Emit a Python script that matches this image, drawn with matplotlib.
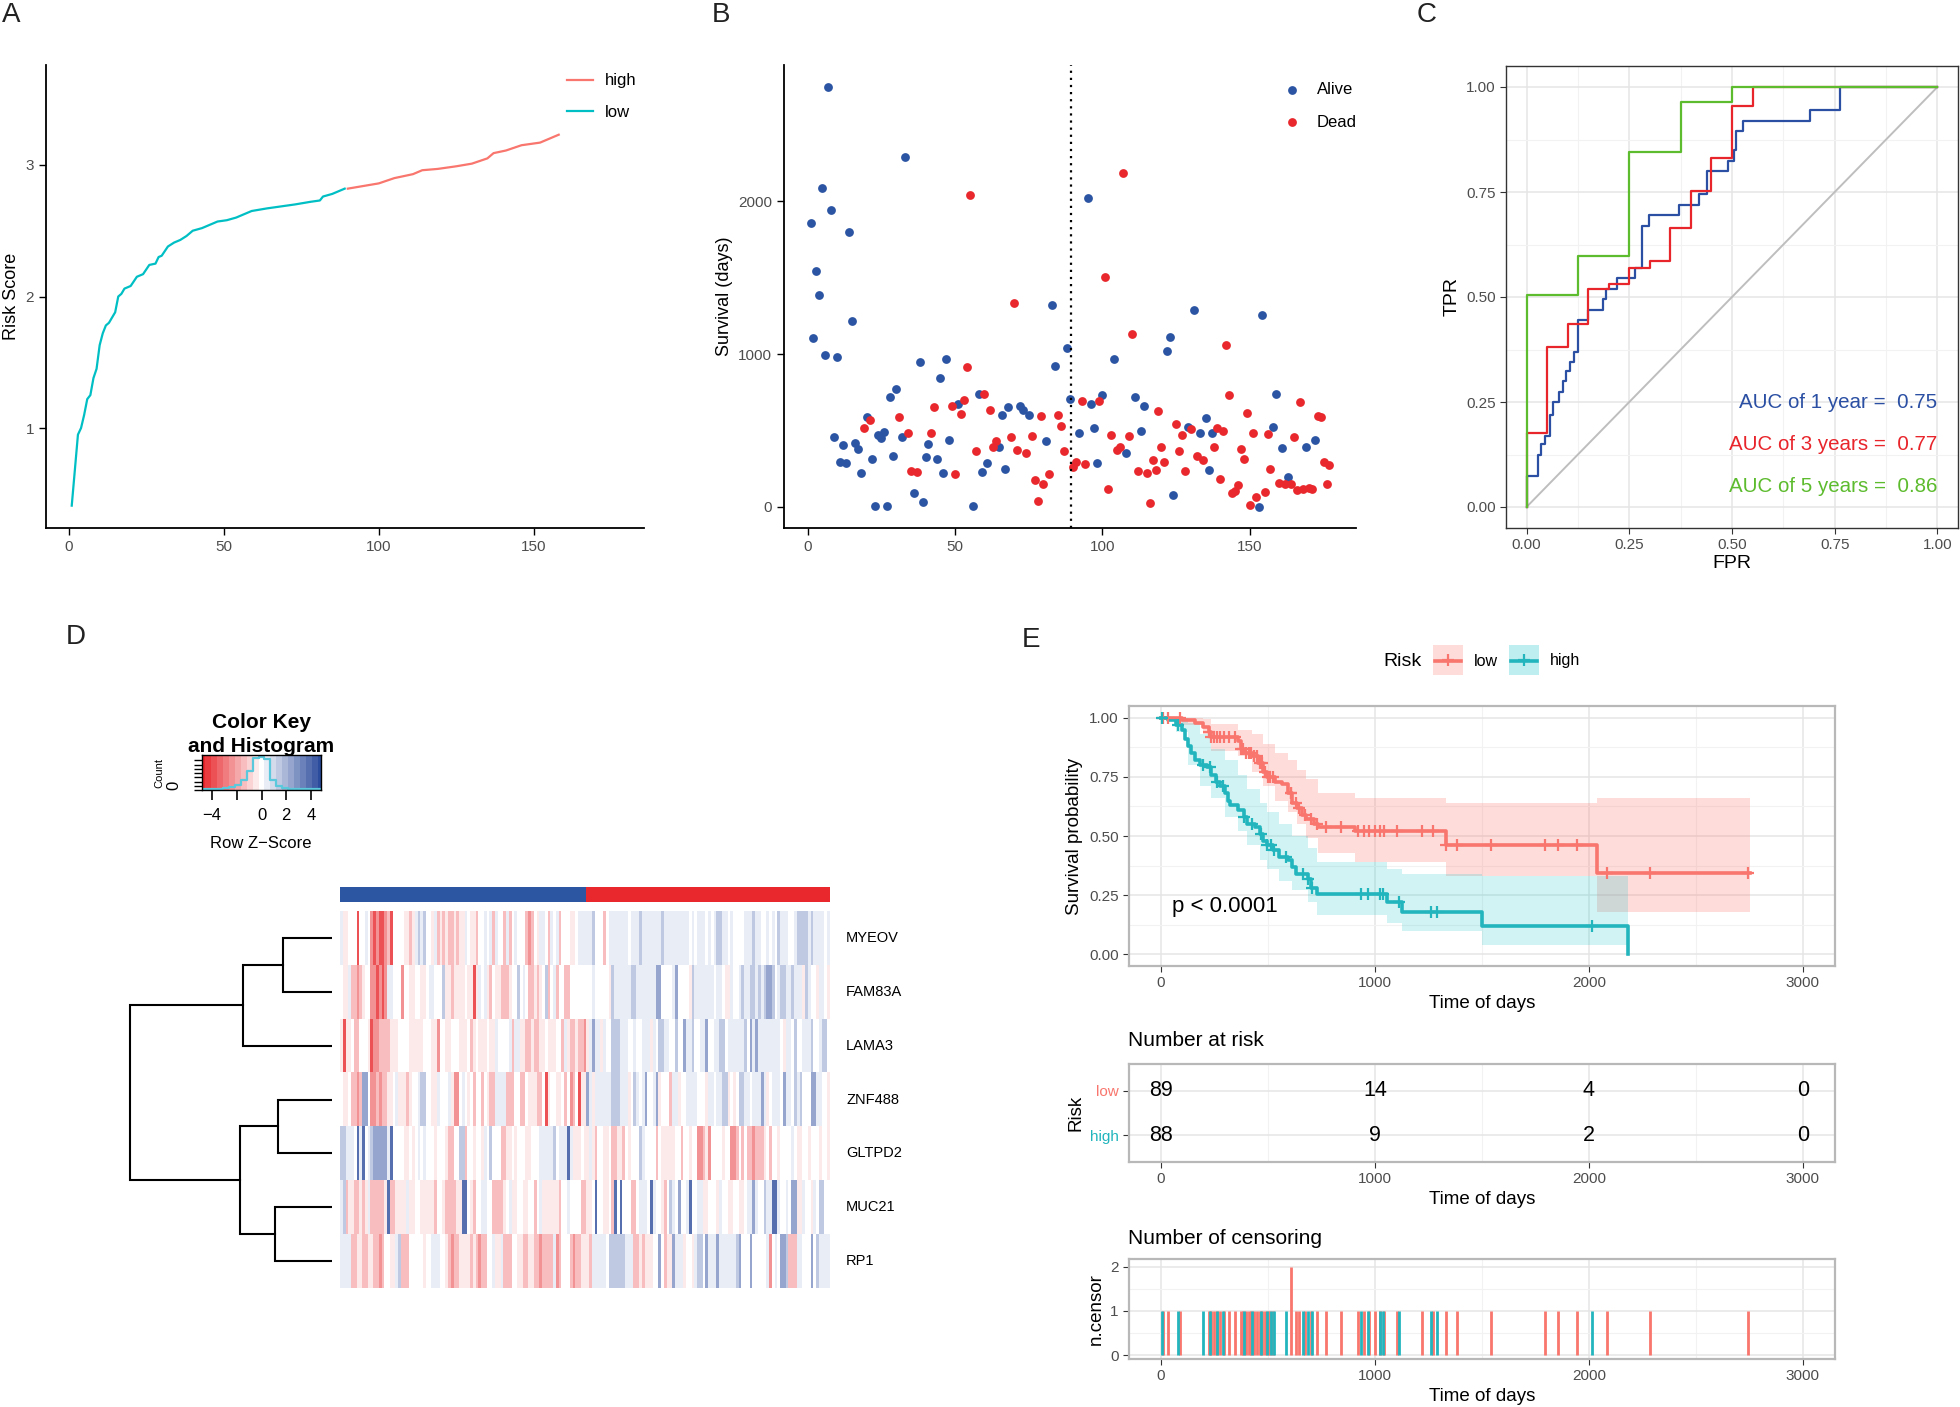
import numpy as np
import matplotlib
matplotlib.use("Agg")
import matplotlib.pyplot as plt
from matplotlib.colors import LinearSegmentedColormap
from matplotlib.lines import Line2D
from matplotlib.patches import Rectangle

plt.rcParams['font.family'] = ['Liberation Sans', 'DejaVu Sans']

# ---------------- data ----------------
# A: risk score curve (rank, score)
low_rank = [1, 3, 4, 5, 6, 7, 8, 9, 10, 11, 12, 13, 15, 16, 17, 18, 20, 22, 24, 26, 28, 29, 30,
            32, 34, 36, 38, 40, 43, 45, 48, 51, 54, 56, 59, 64, 70, 73, 78, 81, 82, 85, 89]
low_score = [0.41, 0.95, 1.0, 1.1, 1.22, 1.25, 1.38, 1.45, 1.63, 1.72, 1.78, 1.80, 1.88, 2.0, 2.02,
             2.06, 2.08, 2.15, 2.17, 2.24, 2.25, 2.30, 2.31, 2.38, 2.41, 2.43, 2.46, 2.50, 2.52, 2.54,
             2.57, 2.58, 2.60, 2.62, 2.65, 2.67, 2.69, 2.70, 2.72, 2.73, 2.76, 2.78, 2.82]
high_rank = [90, 95, 100, 105, 111, 114, 119, 125, 130, 135, 137, 141, 146, 152, 156, 158]
high_score = [2.82, 2.84, 2.86, 2.90, 2.93, 2.96, 2.97, 2.99, 3.01, 3.05, 3.09, 3.11, 3.15, 3.17,
              3.21, 3.23]

# B: survival days by patient rank
alive_idx = [1, 2, 3, 4, 5, 6, 7, 8, 9, 10, 11, 12, 13, 14, 15, 16, 17, 18, 20, 22, 23, 24, 25, 26,
             27, 28, 29, 30, 32, 33, 36, 38, 39, 40, 41, 44, 45, 46, 47, 48, 51, 56, 58, 59, 61, 65,
             66, 67, 68, 72, 73, 75, 81, 83, 84, 88, 89, 92, 95, 96, 97, 98, 100, 104, 108, 111,
             113, 114, 122, 123, 124, 129, 131, 133, 135, 136, 137, 153, 154, 158, 159, 161, 163,
             169, 172]
alive_days = [1859, 1103, 1543, 1385, 2087, 997, 2748, 1946, 459, 979, 292, 403, 284, 1798, 1217,
              418, 377, 224, 586, 311, 5, 467, 450, 491, 5, 719, 335, 768, 459, 2289, 92, 950, 29,
              328, 413, 313, 841, 221, 970, 435, 676, 2, 741, 228, 284, 391, 600, 248, 654, 659,
              632, 603, 430, 1324, 921, 1038, 705, 481, 2019, 671, 515, 287, 729, 970, 350, 717,
              496, 663, 1021, 1115, 75, 525, 1288, 481, 583, 243, 481, 0, 1259, 520, 736, 384, 192,
              389, 437]
dead_idx = [19, 21, 31, 34, 35, 37, 42, 43, 49, 50, 52, 53, 54, 55, 57, 60, 62, 63, 64, 69, 70, 71,
            74, 76, 77, 78, 79, 80, 82, 85, 86, 87, 90, 91, 93, 94, 99, 101, 102, 103, 105, 106,
            107, 109, 110, 112, 115, 116, 117, 118, 119, 120, 121, 125, 126, 127, 128, 130, 132,
            134, 138, 139, 140, 141, 142, 143, 144, 145, 146, 147, 148, 149, 150, 151, 152, 155,
            156, 157, 160, 162, 164, 165, 166, 167, 168, 170, 171, 173, 174, 175, 176, 177]
dead_days = [515, 566, 588, 484, 233, 226, 484, 651, 659, 214, 605, 700, 914, 2041, 365, 739, 632,
             394, 430, 454, 1334, 372, 350, 464, 177, 36, 595, 148, 216, 603, 530, 365, 262, 292,
             690, 277, 695, 1504, 119, 467, 374, 391, 2187, 464, 1130, 236, 221, 27, 306, 243, 625,
             389, 296, 544, 365, 469, 231, 510, 331, 304, 391, 515, 180, 498, 1060, 729, 90, 104,
             141, 379, 311, 612, 10, 481, 66, 100, 474, 250, 158, 146, 146, 457, 112, 683, 114, 122,
             114, 595, 590, 294, 151, 275]
n_low = 89

# C: time-dependent ROC curves
roc1_fpr = [0, 0, 0.028, 0.035, 0.045, 0.058, 0.065, 0.08, 0.088, 0.097, 0.105, 0.115, 0.125, 0.15,
            0.185, 0.193, 0.22, 0.265, 0.28, 0.297, 0.37, 0.42, 0.44, 0.49, 0.505, 0.51, 0.527,
            0.69, 0.762, 1.0]
roc1_tpr = [0, 0.075, 0.125, 0.15, 0.17, 0.22, 0.25, 0.275, 0.30, 0.325, 0.345, 0.37, 0.445, 0.47,
            0.495, 0.52, 0.545, 0.57, 0.67, 0.695, 0.72, 0.745, 0.80, 0.825, 0.85, 0.895, 0.92,
            0.945, 1.0, 1.0]
roc3_fpr = [0, 0, 0.05, 0.1, 0.15, 0.2, 0.25, 0.3, 0.35, 0.4, 0.45, 0.5, 0.55, 1.0]
roc3_tpr = [0, 0.177, 0.38, 0.435, 0.52, 0.53, 0.57, 0.585, 0.665, 0.752, 0.83, 0.955, 1.0, 1.0]
roc5_fpr = [0, 0, 0.125, 0.25, 0.375, 0.5, 1.0]
roc5_tpr = [0, 0.504, 0.597, 0.845, 0.965, 1.0, 1.0]
auc_labels = ["AUC of 1 year =  0.75", "AUC of 3 years =  0.77", "AUC of 5 years =  0.86"]

# D: heatmap (row z-score levels, one character per sample)
genes = ["MYEOV", "FAM83A", "LAMA3", "ZNF488", "GLTPD2", "MUC21", "RP1"]
heat_rows = [
    "lpp...R..l.rRrRRrmR....ppmplclc..plmpmpmmpmpp" + "l.ppm..l.lml..mlm.l...mrm.pll.ml.lm...pp.llll"
    + "lc...m.lllllll.lllclllllllclllllllll.l.lll.l..." [:45] + "lccll.l....lllcll..l.l.clll..lcccclcllll.l",
    ".pplmmrmp..rrRrRrll...r..pp..pp.ll...cppmpppp" + ".ppRpl.lpm.ppmmmp..c.l.mmpmp.cm.lm..mm......."
    + ".l.....pcllllllcclllllllbb....lb....pcllllllll" [:45] + ".ll.ppl..lcllcclclcbbc.lccllclllpcl..pll.p",
    "pRpp.mm...pRrrmmmmppp....ppppp...ppr..pp...pp" + "p.mp.ppp.ppl....lmllppmmpmmpp.ppp..mlpmmpmmrp"
    + "lbllpl..ccclll..l..lllpl.ccll..c..bllc..llb.." + "llcc.llllllc.blbllllllll.pll.c..lllc..lcc",
    ".pp.mmrmbb.rrmrmmpp.lpppmp..lcc..ppl...lprr.l" + ".p.m..m.pmmllllmmm..mm.pppmm.Rp..pp.m.rm.Rppb"
    + "lpllllllccclllp.cl.lb..lbp...mllp..llll...pll" + ".llccp.p.ccll.lllblp.lll.bll.clc...bbll..p",
    "cclll.BlB.lcbbbbblB....pp.p.l.l...p...pmm..cc" + "m..p..pl.c...mmpp.p...pp...lllllc.lllBlppp.ppl"
    + "pm..pp.mmppm.p...cl....m.ppppp..m..p..rrmpr.." + "..p..rrm.m.mmrmmmp.m..p....l.pp..p...p..p.",
    "lcmppmmpmplmmmmmpBmmpppplpp..pppppm..pmmmmppB" + "B.pm..ll..mmmmp.lpp..pp..m.lppppppm..l....mmpp"
    + ".B..pp.mB.B...mm.lll.Bl..pm.cl.b..lB..llpp..." + "pl..pp..pp.llbl..cllBBl..l.bbppl..pl.cc...",
    "llllmmppmmppmmrm..pplcmmm.....p..lll..pmrmmpp" + "ppmpmrmm..lpplmmm..ppmmppmmrmmmmlrm...mrmmppp"
    + "mlllll.cccccclllmmpmppp..b.mppblllp..plcc.bll" + "lbllllllcb...b.....lr.l.bbcmmmll...b.cllll",
]
level = {'R': -4.0, 'r': -2.6, 'm': -1.6, 'p': -0.7, '.': 0.0,
         'l': 0.7, 'c': 1.6, 'b': 2.6, 'B': 4.0}
# dendrogram merges: (child a, child b, height); leaves 0..6, new nodes 7..
merges = [(0, 1, 49), (7, 2, 88), (3, 4, 53), (5, 6, 56), (9, 10, 91), (8, 11, 200)]
# colour key histogram (relative counts in 21 bins from -5 to 5)
key_hist = [0.02, 0.03, 0.03, 0.04, 0.05, 0.08, 0.15, 0.28, 0.55, 0.92, 0.95, 0.88, 0.30, 0.12,
            0.05, 0.04, 0.03, 0.03, 0.02, 0.02, 0.02]

# E: Kaplan-Meier
low_t = [0, 98, 159, 194, 222, 235, 358, 372, 386, 427, 454, 476, 495, 531, 564, 591, 613, 637,
         659, 679, 714, 733, 906, 1330, 2036, 2753]
low_s = [1.0, 0.99, 0.98, 0.96, 0.94, 0.92, 0.90, 0.87, 0.85, 0.84, 0.81, 0.77, 0.75, 0.73, 0.72,
         0.68, 0.64, 0.62, 0.59, 0.57, 0.55, 0.54, 0.52, 0.46, 0.345, 0.345]
high_t = [0, 30, 71, 98, 112, 126, 140, 159, 181, 216, 235, 257, 276, 298, 312, 323, 358, 386, 400,
          440, 460, 476, 495, 523, 550, 591, 613, 632, 687, 700, 728, 1056, 1124, 1500, 2183]
high_s = [1.0, 0.99, 0.97, 0.95, 0.91, 0.88, 0.85, 0.82, 0.80, 0.79, 0.76, 0.73, 0.71, 0.68, 0.65,
          0.63, 0.61, 0.58, 0.55, 0.54, 0.51, 0.48, 0.46, 0.44, 0.41, 0.40, 0.37, 0.34, 0.32, 0.28,
          0.255, 0.22, 0.18, 0.12, 0.0]
low_ci_t = [0, 98, 194, 235, 358, 427, 476, 531, 591, 637, 679, 733, 906, 1330, 2036, 2753]
low_ci_hi = [1.0, 1.0, 0.995, 0.975, 0.95, 0.93, 0.89, 0.85, 0.82, 0.78, 0.74, 0.68, 0.66, 0.64,
             0.66, 0.66]
low_ci_lo = [1.0, 0.97, 0.93, 0.86, 0.84, 0.77, 0.71, 0.65, 0.60, 0.55, 0.49, 0.43, 0.39, 0.33,
             0.18, 0.18]
high_ci_t = [0, 71, 126, 181, 235, 298, 358, 400, 460, 495, 550, 613, 687, 728, 1056, 1124, 1500,
             2183]
high_ci_hi = [1.0, 1.0, 0.98, 0.93, 0.87, 0.82, 0.76, 0.70, 0.64, 0.60, 0.55, 0.50, 0.45, 0.39,
              0.36, 0.34, 0.33, 0.33]
high_ci_lo = [1.0, 0.94, 0.80, 0.71, 0.66, 0.58, 0.52, 0.46, 0.40, 0.36, 0.31, 0.27, 0.22, 0.165,
              0.13, 0.10, 0.04, 0.04]
low_censor = [8, 30, 90, 222, 235, 249, 262, 276, 295, 317, 345, 372, 385, 398, 410, 422, 435, 447,
              460, 472, 485, 498, 510, 523, 605, 605, 632, 646, 673, 700, 728, 769, 843, 919, 947,
              974, 1001, 1023, 1042, 1105, 1220, 1270, 1330, 1384, 1543, 1795, 1855, 1943, 2085,
              2287, 2744]
high_censor = [3, 77, 194, 227, 263, 290, 386, 427, 468, 495, 514, 528, 585, 665, 687, 706, 936,
               966, 1023, 1037, 1111, 1261, 1291, 2014]
risk_times = [0, 1000, 2000, 3000]
risk_low = [89, 14, 4, 0]
risk_high = [88, 9, 2, 0]

# ---------------- figure ----------------
W, H = 1960, 1407
fig = plt.figure(figsize=(W / 100, H / 100), dpi=100)


def box(l, t, r, b):
    return fig.add_axes([l / W, 1 - b / H, (r - l) / W, (b - t) / H])


def ftext(x, y, s, **kw):
    fig.text(x / W, 1 - y / H, s, **kw)


teal = '#00BFC4'
salmon = '#F8766D'
blue = '#2B54A3'
red = '#E8282C'
grey_txt = '#4D4D4D'


def classic(ax):
    for s in ['top', 'right']:
        ax.spines[s].set_visible(False)
    for s in ['left', 'bottom']:
        ax.spines[s].set_linewidth(1.3)
    ax.tick_params(labelsize=11, labelcolor=grey_txt, length=5, width=1)


def bw(ax, border='#333333', lw=1.0):
    for s in ax.spines.values():
        s.set_color(border)
        s.set_linewidth(lw)
    ax.set_axisbelow(True)
    ax.grid(which='major', color='#E5E5E5', lw=1.1)
    ax.grid(which='minor', color='#F2F2F2', lw=0.8)
    ax.tick_params(which='major', labelsize=11, labelcolor=grey_txt, color='#333333', length=4)
    ax.tick_params(which='minor', length=0)


# ---- A ----
axA = box(46, 65, 644, 528)
axA.plot(low_rank, low_score, color=teal, lw=1.6)
axA.plot(high_rank, high_score, color=salmon, lw=1.6)
axA.set_xlim(-7.3, 185.5)
axA.set_ylim(0.24, 3.76)
axA.set_xticks([0, 50, 100, 150])
axA.set_yticks([1, 2, 3])
axA.set_ylabel("Risk Score", fontsize=13)
classic(axA)
axA.legend([Line2D([], [], color=salmon, lw=1.6), Line2D([], [], color=teal, lw=1.6)],
           ["high", "low"], loc='upper left', bbox_to_anchor=(0.872, 0.982), frameon=False,
           fontsize=12, handlelength=1.55, handletextpad=0.7, labelspacing=1.0,
           borderpad=0, borderaxespad=0)

# ---- B ----
axB = box(784, 65, 1356, 528)
axB.scatter(alive_idx, alive_days, s=40, color=blue, lw=0, label="Alive")
axB.scatter(dead_idx, dead_days, s=40, color=red, lw=0, label="Dead")
axB.axvline(n_low + 0.5, color='black', ls=(0, (1, 2.2)), lw=1.6)
axB.set_xlim(-8, 186)
axB.set_ylim(-139, 2893)
axB.set_xticks([0, 50, 100, 150])
axB.set_yticks([0, 1000, 2000])
axB.set_ylabel("Survival (days)", fontsize=13)
classic(axB)
axB.legend(loc='upper left', bbox_to_anchor=(0.873, 0.963), frameon=False, fontsize=12,
           handlelength=1.0, handletextpad=1.0, labelspacing=1.05, borderpad=0, borderaxespad=0)

# ---- C ----
axC = box(1506, 66, 1958, 528)
axC.plot([0, 1], [0, 1], color='#BEBEBE', lw=1.4)
roc_cols = ['#2B4FA3', '#E8252B', '#5DBB2E']
axC.plot(roc1_fpr, roc1_tpr, drawstyle='steps-post', color=roc_cols[0], lw=1.6)
axC.plot(roc3_fpr, roc3_tpr, drawstyle='steps-post', color=roc_cols[1], lw=1.6)
axC.plot(roc5_fpr, roc5_tpr, drawstyle='steps-post', color=roc_cols[2], lw=1.6)
for lab, col, yy in zip(auc_labels, roc_cols, [0.25, 0.15, 0.05]):
    axC.text(1.0, yy, lab, color=col, ha='right', va='center', fontsize=14.8)
axC.set_xlim(-0.05, 1.05)
axC.set_ylim(-0.05, 1.05)
ticks = [0, 0.25, 0.5, 0.75, 1.0]
axC.set_xticks(ticks)
axC.set_yticks(ticks)
axC.set_xticklabels(["0.00", "0.25", "0.50", "0.75", "1.00"])
axC.set_yticklabels(["0.00", "0.25", "0.50", "0.75", "1.00"])
axC.set_xticks([0.125, 0.375, 0.625, 0.875], minor=True)
axC.set_yticks([0.125, 0.375, 0.625, 0.875], minor=True)
bw(axC)
axC.set_xlabel("FPR", fontsize=14, labelpad=2)
axC.set_ylabel("TPR", fontsize=14)

# ---- D ----
mat = np.array([[level[ch] for ch in row.ljust(177, '.')[:177]] for row in heat_rows])
n_col = mat.shape[1]
cmap = LinearSegmentedColormap.from_list('rwb', ['#E8262B', '#FFFFFF', '#2B4C9C'], N=21)

axH = box(340, 911, 829, 1288)
axH.imshow(mat, cmap=cmap, vmin=-5, vmax=5, aspect='auto', interpolation='nearest',
           extent=(0, n_col, len(genes), 0))
axH.axis('off')
for i, g in enumerate(genes):
    ftext(846, 911 + (i + 0.5) * (1288 - 911) / len(genes), g, va='center', fontsize=10.5)

axS = box(340, 887, 829, 902)
side = np.array([[0] * n_low + [1] * (n_col - n_low)])
axS.imshow(side, cmap=LinearSegmentedColormap.from_list('s', ['#2C55A2', '#E8282D'], N=2),
           aspect='auto', interpolation='nearest', extent=(0, n_col, 1, 0))
axS.axis('off')

# dendrogram
axDd = box(128, 911, 332, 1288)
ypos = {i: i + 0.5 for i in range(len(genes))}
hpos = {i: 0 for i in range(len(genes))}
node = len(genes)
for a, b, h in merges:
    axDd.plot([hpos[a], h, h, hpos[b]], [ypos[a], ypos[a], ypos[b], ypos[b]],
              color='black', lw=1.5, solid_joinstyle='miter')
    ypos[node] = (ypos[a] + ypos[b]) / 2
    hpos[node] = h
    node += 1
axDd.set_xlim(202, 0)
axDd.set_ylim(len(genes), 0)
axDd.axis('off')

# colour key
axK = box(202, 755, 321, 790)
edges = np.linspace(-5, 5, 22)
axK.imshow(np.arange(21)[None, :], cmap=cmap, aspect='auto', extent=(-5, 5, 0, 1),
           interpolation='nearest')
axK.step(edges, list(key_hist) + [key_hist[-1]], where='post', color='#5BC8DC', lw=1.6)
axK.set_xlim(-4.8, 4.8)
axK.set_ylim(0, 1)
axK.set_xticks([-4, -2, 0, 2, 4])
axK.set_xticklabels(['\u22124', '', '0', '2', '4'])
axK.set_yticks(np.linspace(0, 0.85, 8))
axK.set_yticklabels([])
axK.tick_params(axis='x', labelsize=12, length=7, width=1.2, pad=6)
axK.tick_params(axis='y', length=6, width=1)
for s in axK.spines.values():
    s.set_linewidth(1.0)
ftext(261, 722, "Color Key", ha='center', va='center', fontsize=15, fontweight='bold')
ftext(261, 746, "and Histogram", ha='center', va='center', fontsize=15, fontweight='bold')
ftext(261, 844, "Row Z\u2212Score", ha='center', va='center', fontsize=12)
ftext(159, 773, "Count", ha='center', va='center', rotation=90, fontsize=8)
ftext(174, 785, "0", ha='center', va='center', rotation=90, fontsize=12)

# ---- E ----
xlimE = (-150, 3150)


def e_axes(ax):
    ax.set_xlim(*xlimE)
    ax.set_xticks([0, 1000, 2000, 3000])
    ax.set_xticks([500, 1500, 2500], minor=True)
    bw(ax, border='#B8B8B8', lw=1.6)
    ax.set_xlabel("Time of days", fontsize=13.5, labelpad=3)


def step_at(ts, ss, t):
    i = np.searchsorted(ts, t, side='right') - 1
    return np.asarray(ss)[i]


axE = box(1129, 706, 1835, 966)
axE.fill_between(low_ci_t, low_ci_lo, low_ci_hi, step='post', color=salmon, alpha=0.25, lw=0)
axE.fill_between(high_ci_t, high_ci_lo, high_ci_hi, step='post', color=teal, alpha=0.18, lw=0)
axE.plot(low_t, low_s, drawstyle='steps-post', color=salmon, lw=2.6)
axE.plot(high_t, high_s, drawstyle='steps-post', color='#22B5BD', lw=2.6)
axE.plot(low_censor, step_at(low_t, low_s, low_censor), '+', color=salmon, ms=9, mew=1.6)
axE.plot(high_censor, step_at(high_t, high_s, high_censor), '+', color='#22B5BD', ms=9, mew=1.6)
axE.text(50, 0.2, "p < 0.0001", fontsize=16, va='center')
axE.set_ylim(-0.05, 1.05)
axE.set_yticks(ticks)
axE.set_yticklabels(["0.00", "0.25", "0.50", "0.75", "1.00"])
axE.set_yticks([0.125, 0.375, 0.625, 0.875], minor=True)
e_axes(axE)
axE.set_ylabel("Survival probability", fontsize=13.5)

# legend for E
ftext(1383, 661, "Risk", va='center', fontsize=14)
for x0, col, lab, fc in [(1433, salmon, "low", salmon), (1509, '#22B5BD', "high", teal)]:
    fig.add_artist(Rectangle((x0 / W, 1 - 675 / H), 30 / W, 30 / H, transform=fig.transFigure,
                             color=fc, alpha=0.25, lw=0))
    fig.add_artist(Line2D([(x0 + 2) / W, (x0 + 28) / W], [1 - 661 / H, 1 - 661 / H],
                          transform=fig.transFigure, color=col, lw=2.6))
    fig.add_artist(Line2D([(x0 + 15) / W], [1 - 660 / H], transform=fig.transFigure,
                          marker='+', color=col, ms=9, mew=1.6))
    ftext(x0 + 41, 661, lab, va='center', fontsize=11.5)

# number at risk
axR = box(1129, 1064, 1835, 1162)
for t, a, b in zip(risk_times, risk_low, risk_high):
    axR.text(t, 2, str(a), ha='center', va='center', fontsize=15.5)
    axR.text(t, 1, str(b), ha='center', va='center', fontsize=15.5)
axR.set_ylim(0.4, 2.6)
axR.set_yticks([1, 2])
axR.set_yticklabels(["high", "low"])
e_axes(axR)
for tl, c in zip(axR.get_yticklabels(), ['#22B5BD', salmon]):
    tl.set_color(c)
axR.set_ylabel("Risk", fontsize=13.5)
ftext(1128, 1040, "Number at risk", va='center', fontsize=15)

# number of censoring
axN = box(1129, 1259, 1835, 1359)
lt, lc = np.unique(low_censor, return_counts=True)
ht, hc = np.unique(high_censor, return_counts=True)
axN.vlines(lt, 0, lc, color=salmon, lw=2.0)
axN.vlines(ht, 0, hc, color='#22B5BD', lw=2.0)
axN.set_ylim(-0.085, 2.17)
axN.set_yticks([0, 1, 2])
axN.set_yticks([0.5, 1.5], minor=True)
e_axes(axN)
axN.set_ylabel("n.censor", fontsize=13.5)
ftext(1128, 1238, "Number of censoring", va='center', fontsize=15)

# panel letters
for x, y, s in [(2, 15, "A"), (712, 15, "B"), (1417, 15, "C"), (66, 637, "D"), (1022, 640, "E")]:
    ftext(x, y, s, fontsize=20, va='center', color='#222222')

fig.savefig("out.png", dpi=100, facecolor='white')
